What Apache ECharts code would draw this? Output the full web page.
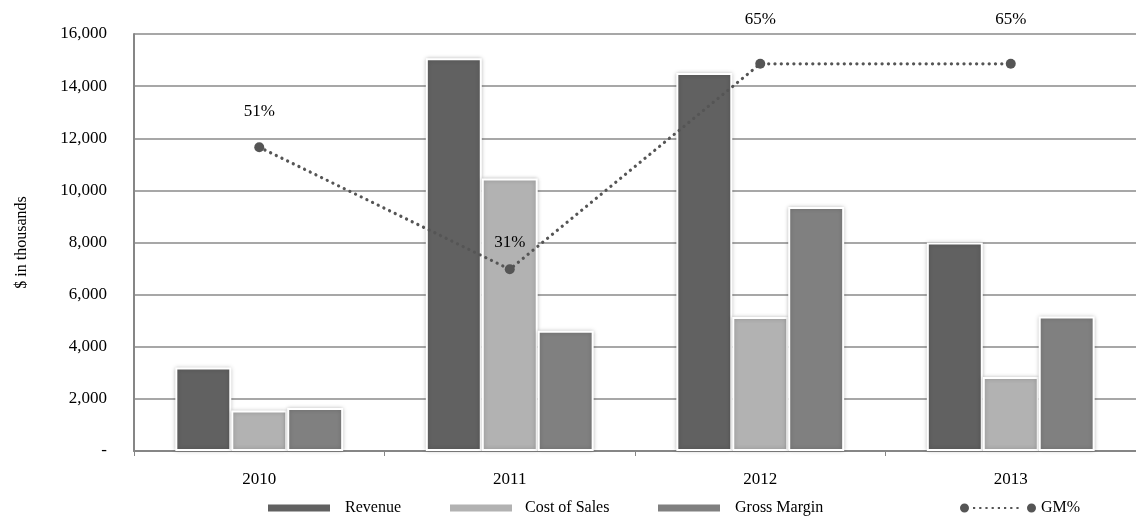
<!DOCTYPE html>
<html><head><meta charset="utf-8">
<script src="https://cdn.jsdelivr.net/npm/echarts@6/dist/echarts.min.js"></script>
<style>html,body{margin:0;padding:0;background:#fff}#c{width:1136px;height:519px}</style>
</head><body><div id="c"></div>
<script>
const categories = ['2010', '2011', '2012', '2013'];
const revenue = [3200, 15070, 14500, 8000];
const costOfSales = [1550, 10460, 5140, 2840];
const grossMargin = [1650, 4610, 9360, 5160];
const gmPct = [0.51, 0.305, 0.65, 0.65];
const gmLabels = ['51%', '31%', '65%', '65%'];
const yTicks = [0, 2000, 4000, 6000, 8000, 10000, 12000, 14000, 16000];

const FONT = 'Liberation Serif';
const labelDist = [22, 13, 31, 31];

// GM% legend icon: circles at both ends, dotted line between
let p = 'path://M0,4.5A4.5,4.5 0 1 1 9,4.5A4.5,4.5 0 1 1 0,4.5Z M67,4.5A4.5,4.5 0 1 1 76,4.5A4.5,4.5 0 1 1 67,4.5Z';
for (let x = 13; x <= 62; x += 6.2) { p += ' M' + x.toFixed(1) + ',3.4h2.2v2.2h-2.2Z'; }

const chart = echarts.init(document.getElementById('c'), null, {renderer: 'canvas'});
const barStyle = c => ({color: c, borderColor: '#fff', borderWidth: 2, shadowBlur: 4, shadowColor: 'rgba(0,0,0,0.22)'});
const legendBase = (name, left, icon, w, h, pad) => ({
  data: [name], left: left, top: 500, padding: 0, icon: icon, itemWidth: w, itemHeight: h, itemGap: 0,
  textStyle: {fontFamily: FONT, fontSize: 16, color: '#000', padding: [0, 0, 0, pad]},
  itemStyle: {borderWidth: 0, shadowBlur: 0}, lineStyle: {width: 0}
});
chart.setOption({
  animation: false,
  textStyle: {fontFamily: FONT},
  grid: {left: 134, top: 34, width: 1006, height: 417, containLabel: false},
  legend: [
    legendBase('Revenue', 268, 'rect', 62, 7, 10),
    legendBase('Cost of Sales', 450, 'rect', 62, 7, 8),
    legendBase('Gross Margin', 658, 'rect', 62, 7, 10),
    legendBase('GM%', 960, p, 76, 9, 0)
  ],
  xAxis: {
    type: 'category', data: categories,
    axisLine: {lineStyle: {color: '#868686', width: 2}},
    axisTick: {show: true, length: 5, lineStyle: {color: '#868686', width: 1}},
    axisLabel: {fontFamily: FONT, fontSize: 17, color: '#000', margin: 20}
  },
  yAxis: [{
    type: 'value', min: yTicks[0], max: yTicks[yTicks.length - 1], interval: 2000,
    name: '$ in thousands', nameLocation: 'middle', nameGap: 104, nameRotate: 90,
    nameTextStyle: {fontFamily: FONT, fontSize: 16, color: '#000'},
    axisLine: {show: true, lineStyle: {color: '#868686', width: 2}},
    axisTick: {show: false},
    splitLine: {lineStyle: {color: '#8a8a8a', width: 1.5}},
    axisLabel: {fontFamily: FONT, fontSize: 17, color: '#000', margin: 27,
      formatter: v => v === 0 ? '-' : v.toLocaleString('en-US')}
  }, {
    type: 'value', min: 0, max: 0.7, show: false, splitLine: {show: false}
  }],
  series: [
    {name: 'Revenue', type: 'bar', data: revenue, barGap: '0%', barCategoryGap: '33%', itemStyle: barStyle('#616161')},
    {name: 'Cost of Sales', type: 'bar', data: costOfSales, itemStyle: barStyle('#b2b2b2')},
    {name: 'Gross Margin', type: 'bar', data: grossMargin, itemStyle: barStyle('#808080')},
    {name: 'GM%', type: 'line', yAxisIndex: 1, z: 5,
      data: gmPct.map((v, i) => ({value: v, label: {distance: labelDist[i]}})),
      symbol: 'circle', symbolSize: 10,
      itemStyle: {color: '#555555'},
      lineStyle: {color: '#555555', width: 3.2, type: [0.1, 6.2], cap: 'round'},
      label: {show: true, position: 'top', fontFamily: FONT, fontSize: 17, color: '#000',
        formatter: params => gmLabels[params.dataIndex]}
    }
  ]
});
</script></body></html>
